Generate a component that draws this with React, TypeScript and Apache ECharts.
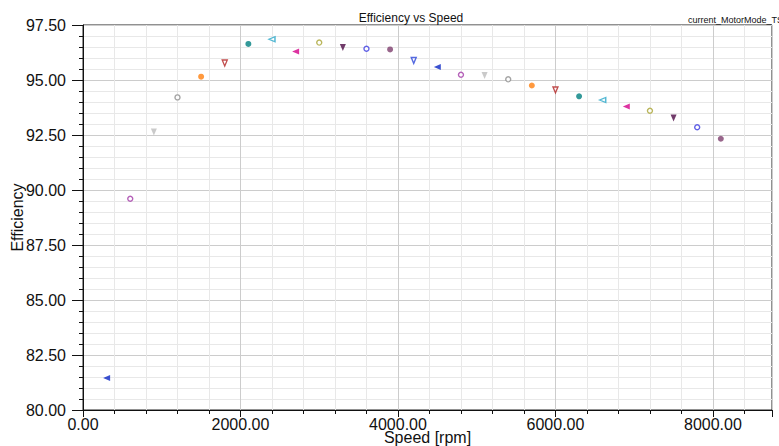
import React, { useEffect, useRef } from "react";
import * as echarts from "echarts";

const speeds = [300, 600, 900, 1200, 1500, 1800, 2100, 2400, 2700, 3000, 3300, 3600, 3900, 4200, 4500, 4800, 5100, 5400, 5700, 6000, 6300, 6600, 6900, 7200, 7500, 7800, 8100];
const efficiency = [81.45, 89.6, 92.64, 94.21, 95.15, 95.77, 96.64, 96.85, 96.3, 96.7, 96.48, 96.42, 96.39, 95.89, 95.59, 95.24, 95.2, 95.03, 94.75, 94.55, 94.26, 94.09, 93.8, 93.6, 93.27, 92.85, 92.33];

// marker cycle (repeats every 14 points)
const markerColors = ["#0a26c4", "#a23aa8", "#bdbdbd", "#8c8c8c", "#ff7f0e", "#b22222", "#00807f", "#2aa7c9", "#d4008a", "#a9a433", "#4d0a45", "#3a3ae0", "#7e3f6e", "#2b45d8"];
const markerShapes = ["left", "circle", "down", "circle", "circle", "down", "circle", "left", "left", "circle", "down", "circle", "circle", "down"];
const markerFilled = [true, false, true, false, true, false, true, false, true, false, true, false, true, false];

const LEFT_TRI = "path://M10,0L10,10L0,5Z";
const DOWN_TRI = "path://M0,0L10,0L5,10Z";

export default function App() {
  const ref = useRef<HTMLDivElement>(null);
  useEffect(() => {
    if (!ref.current) return;
    const chart = echarts.init(ref.current, null, { renderer: "svg" });
    const data = speeds.map((s, i) => {
      const k = i % markerColors.length;
      const shape = markerShapes[k];
      const filled = markerFilled[k];
      const c = markerColors[k];
      let symbol = "circle";
      let size: any = filled ? 6 : 5;
      if (shape === "left") { symbol = LEFT_TRI; size = filled ? [7, 6] : [6, 5]; }
      if (shape === "down") { symbol = DOWN_TRI; size = filled ? [6, 7] : [5, 6]; }
      return {
        value: [s, efficiency[i]],
        symbol,
        symbolSize: size,
        itemStyle: filled
          ? { color: c, borderWidth: 0 }
          : { color: "#ffffff", borderColor: c, borderWidth: 1.4 },
      };
    });
    const font = "'Liberation Sans', Arial, sans-serif";
    chart.setOption({
      animation: false,
      backgroundColor: "#ffffff",
      textStyle: { fontFamily: font },
      title: [
        {
          text: "Efficiency vs Speed",
          left: 406,
          top: 7,
          textAlign: "center",
          textStyle: { fontSize: 12, fontWeight: "normal", color: "#111", fontFamily: font },
        },
        {
          text: "current_MotorMode_TSC",
          left: 683,
          top: 10,
          textStyle: { fontSize: 9, fontWeight: "normal", color: "#111", fontFamily: font },
        },
      ],
      grid: {
        left: 83,
        top: 25,
        right: 7,
        bottom: 36,
        containLabel: false,
        outerBoundsMode: "none",
        show: true,
        borderColor: "#222",
        borderWidth: 1,
        backgroundColor: "#ffffff",
      },
      xAxis: {
        type: "value",
        min: 0,
        max: 8750,
        interval: 2000,
        name: "Speed [rpm]",
        nameLocation: "middle",
        nameGap: 19,
        nameMoveOverlap: false,
        nameTextStyle: { fontSize: 16, color: "#111", fontFamily: font },
        axisLine: { show: true, onZero: false, lineStyle: { color: "#111", width: 1 } },
        axisTick: { show: true, length: 7, lineStyle: { color: "#111" } },
        minorTick: { show: true, splitNumber: 5, length: 4, lineStyle: { color: "#111" } },
        axisLabel: { fontSize: 16, color: "#111", margin: 6, showMaxLabel: false, formatter: (v: number) => v.toFixed(2), fontFamily: font },
        splitLine: { show: true, lineStyle: { color: "#cccccc", width: 1 } },
        minorSplitLine: { show: true, lineStyle: { color: "#e8e8e8", width: 1 } },
      },
      yAxis: {
        type: "value",
        min: 80,
        max: 97.5,
        interval: 2.5,
        name: "Efficiency",
        nameLocation: "middle",
        nameGap: 58,
        nameMoveOverlap: false,
        nameTextStyle: { fontSize: 16, color: "#111", fontFamily: font },
        axisLine: { show: true, lineStyle: { color: "#111", width: 1 } },
        axisTick: { show: true, length: 11, lineStyle: { color: "#111" } },
        minorTick: { show: true, splitNumber: 5, length: 4, lineStyle: { color: "#111" } },
        axisLabel: { fontSize: 16, color: "#111", margin: 17, formatter: (v: number) => v.toFixed(2), fontFamily: font },
        splitLine: { show: true, lineStyle: { color: "#cccccc", width: 1 } },
        minorSplitLine: { show: true, lineStyle: { color: "#e8e8e8", width: 1 } },
      },
      series: [
        {
          type: "scatter",
          data,
          z: 5,
        },
      ],
    });
    return () => chart.dispose();
  }, []);
  return (
    <div
      ref={ref}
      style={{ position: "absolute", left: 0, top: 0, width: 779, height: 446 }}
    />
  );
}
